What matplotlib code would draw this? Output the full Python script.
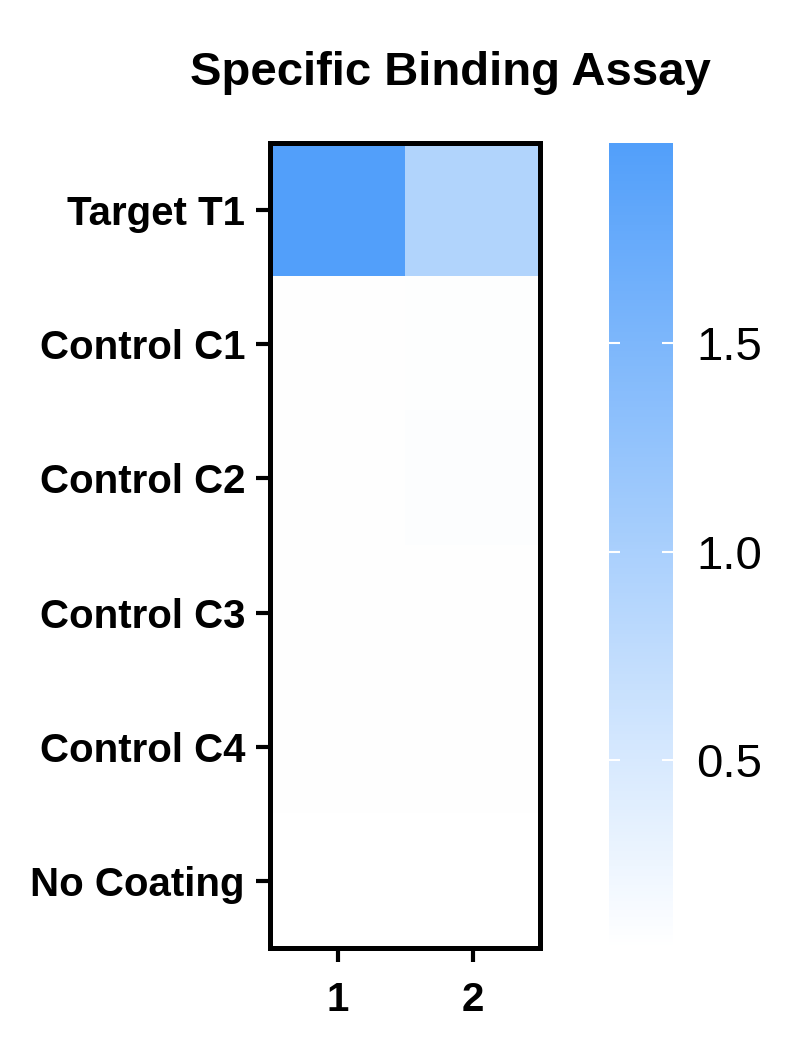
import numpy as np
import matplotlib.pyplot as plt
from matplotlib.colors import LinearSegmentedColormap

plt.rcParams['font.family'] = ['Liberation Sans', 'DejaVu Sans']

rows = ['Target T1', 'Control C1', 'Control C2', 'Control C3', 'Control C4', 'No Coating']
cols = ['1', '2']
rep1 = [1.98, 0.06, 0.06, 0.06, 0.06, 0.05]
rep2 = [0.91, 0.07, 0.08, 0.06, 0.06, 0.05]

data = np.column_stack([rep1, rep2])

cmap = LinearSegmentedColormap.from_list('wb', ['#ffffff', '#529ffa'])

fig = plt.figure(figsize=(8, 10.55), dpi=100)
ax = fig.add_axes([0.3375, 0.1014, 0.3375, 0.7631])
cax = fig.add_axes([0.761, 0.1014, 0.080, 0.7631])

im = ax.imshow(data, cmap=cmap, aspect='auto', vmin=min(data.min(), 0.05), vmax=data.max(),
               interpolation='nearest')

ax.set_xticks(range(len(cols)))
ax.set_xticklabels(cols, fontsize=29, fontweight='bold')
ax.set_yticks(range(len(rows)))
ax.set_yticklabels(rows, fontsize=29, fontweight='bold')
ax.tick_params(width=3, length=10, pad=8)
ax.tick_params(axis='x', pad=14)
for s in ax.spines.values():
    s.set_linewidth(3.6)

# title sits centred over heatmap + colorbar
fig.text(0.5625, 0.931, 'Specific Binding Assay', fontsize=34, fontweight='bold',
         ha='center', va='center')

cb = fig.colorbar(im, cax=cax)
cb.outline.set_visible(False)
cb.set_ticks([0.5, 1.0, 1.5])
cb.ax.tick_params(left=True, right=True, direction='in', color='white',
                  length=8, width=1.5, labelsize=34, pad=17)

fig.savefig('out.png', dpi=100)
